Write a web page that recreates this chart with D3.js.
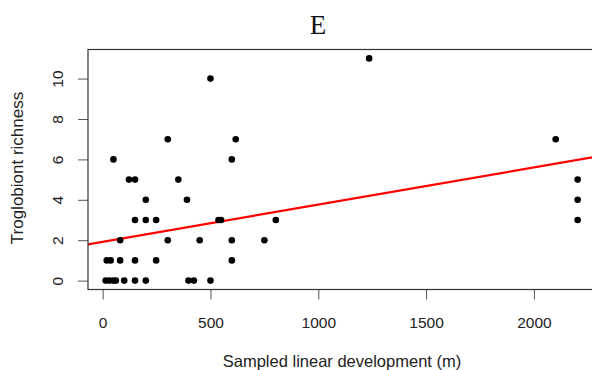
<!DOCTYPE html>
<html>
<head>
<meta charset="utf-8">
<script src="https://cdn.jsdelivr.net/npm/d3@7"></script>
<style>
  body { margin: 0; background: #fff; }
  svg { display: block; }
</style>
</head>
<body>
<div id="chart"></div>
<script>
// sampled linear development (m) and troglobiont richness, one entry per cave
const sampledLength = [500, 302, 617, 50, 599, 122, 150, 351, 200, 391,
  150, 200, 248, 537, 549, 803, 81, 302, 450, 599, 750,
  19, 37, 81, 150, 248, 599,
  14, 31, 50, 61, 100, 150, 200, 398, 423, 500,
  1236, 2101, 2203, 2203, 2203];
const richness = [10, 7, 7, 6, 6, 5, 5, 5, 4, 4,
  3, 3, 3, 3, 3, 3, 2, 2, 2, 2, 2,
  1, 1, 1, 1, 1, 1,
  0, 0, 0, 0, 0, 0, 0, 0, 0, 0,
  11, 7, 5, 4, 3];

// fitted line (abline of lm)
const fitIntercept = 1.92;
const fitSlope = 0.00184;

const xTicks = [0, 500, 1000, 1500, 2000];
const yTicks = [0, 2, 4, 6, 8, 10];

const width = 592, height = 370;
const plot = { left: 88, top: 49.5, right: 596, bottom: 289.5 };
const sans = 'Liberation Sans, Arial, sans-serif';

const svg = d3.select('#chart').append('svg')
  .attr('width', width)
  .attr('height', height);

const x = d3.scaleLinear().domain([-68, 2288]).range([plot.left, plot.right]);
const y = d3.scaleLinear().domain([-0.44, 11.44]).range([plot.bottom, plot.top]);

svg.append('clipPath').attr('id', 'clip')
  .append('rect')
  .attr('x', plot.left).attr('y', plot.top)
  .attr('width', plot.right - plot.left).attr('height', plot.bottom - plot.top);

// x axis
const xAxis = svg.append('g')
  .attr('transform', `translate(0,${plot.bottom})`)
  .call(d3.axisBottom(x).tickValues(xTicks).tickFormat(d3.format('d')).tickSize(10).tickSizeOuter(0));
xAxis.select('.domain').remove();
xAxis.selectAll('line').attr('stroke', '#555');
xAxis.selectAll('text')
  .attr('y', 38).attr('dy', null)
  .attr('font-family', sans)
  .attr('font-size', 15.5)
  .attr('fill', '#222');

// y axis, labels rotated as in R
const yAxis = svg.append('g')
  .attr('transform', `translate(${plot.left},0)`)
  .call(d3.axisLeft(y).tickValues(yTicks).tickSize(10).tickSizeOuter(0));
yAxis.select('.domain').remove();
yAxis.selectAll('line').attr('stroke', '#555');
yAxis.selectAll('text')
  .attr('x', null).attr('dy', null)
  .attr('transform', 'translate(-30.5,0) rotate(-90)')
  .attr('text-anchor', 'middle')
  .attr('dominant-baseline', 'central')
  .attr('font-family', sans)
  .attr('font-size', 15.5)
  .attr('fill', '#222');

// regression line
svg.append('line')
  .attr('clip-path', 'url(#clip)')
  .attr('x1', x(-68)).attr('y1', y(fitIntercept + fitSlope * -68))
  .attr('x2', x(2288)).attr('y2', y(fitIntercept + fitSlope * 2288))
  .attr('stroke', '#ff0000')
  .attr('stroke-width', 2.2);

// points
svg.append('g')
  .selectAll('circle')
  .data(sampledLength)
  .enter().append('circle')
  .attr('cx', d => x(d))
  .attr('cy', (d, i) => y(richness[i]))
  .attr('r', 3.3)
  .attr('fill', '#000');

// plot box
svg.append('rect')
  .attr('x', plot.left).attr('y', plot.top)
  .attr('width', plot.right - plot.left).attr('height', plot.bottom - plot.top)
  .attr('fill', 'none')
  .attr('stroke', '#333')
  .attr('stroke-width', 1.2);

// title and axis labels
svg.append('text')
  .text('E')
  .attr('x', 318).attr('y', 34)
  .attr('text-anchor', 'middle')
  .attr('font-family', 'Liberation Serif, Times New Roman, serif')
  .attr('font-size', 27)
  .attr('fill', '#111');

svg.append('text')
  .text('Sampled linear development (m)')
  .attr('x', 342).attr('y', 367)
  .attr('text-anchor', 'middle')
  .attr('font-family', sans)
  .attr('font-size', 16.5)
  .attr('fill', '#222');

svg.append('text')
  .text('Troglobiont richness')
  .attr('transform', 'translate(23,168) rotate(-90)')
  .attr('text-anchor', 'middle')
  .attr('font-family', sans)
  .attr('font-size', 17)
  .attr('fill', '#222');
</script>
</body>
</html>
